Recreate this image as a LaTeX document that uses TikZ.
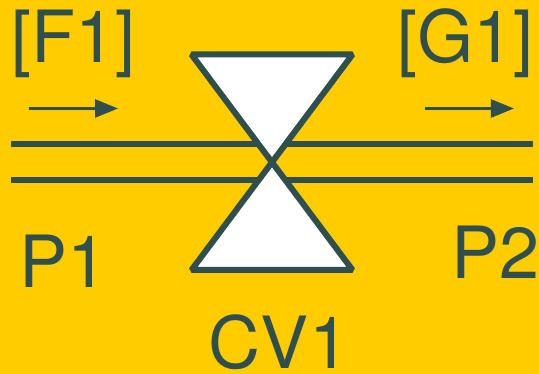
\documentclass[tikz,border=0pt]{standalone}
\usepackage{fontspec}
\setmainfont{TeX Gyre Heros}
\usetikzlibrary{positioning,calc,arrows.meta}
\definecolor{bgyellow}{HTML}{FFCC00}
\definecolor{pipeline}{HTML}{2F4F4F}
\tikzstyle{pipe} = [line width=0.06cm, draw=pipeline]
\tikzstyle{valve} = [line width=0.06cm, draw=pipeline, fill=white, line join=bevel]
\tikzstyle{flow} = [line width=0.025cm, draw=pipeline, -{Triangle[length=0.23cm,width=0.18cm]}]
\tikzstyle{tag} = [text=pipeline, font=\fontsize{20.5pt}{20.5pt}\selectfont, inner sep=0pt, anchor=base]

\begin{document}
\begin{tikzpicture}[x=0.1cm, y=-0.1cm]
        \useasboundingbox [fill=bgyellow] (0,0) rectangle (53.9,37.4);

        % Ends
        \coordinate (pipeAw) at (1.1,14.4);
        \coordinate (pipeAe) at (53.3,14.4);
        \coordinate (pipeBw) at (1.1,18.0);
        \coordinate (pipeBe) at (53.3,18.0);
        \coordinate (flowAw) at (2.9,10.85);
        \coordinate (flowAe) at (11.8,10.85);
        \coordinate (flowBw) at (42.5,10.85);
        \coordinate (flowBe) at (51.4,10.85);
        \coordinate (valveNW) at (19.15,5.45);
        \coordinate (valveNE) at (35.25,5.45);
        \coordinate (valveSW) at (19.15,27);
        \coordinate (valveSE) at (35.25,27);

        % Lines
        \draw [pipe] (pipeAw) -- (pipeAe);
        \draw [pipe] (pipeBw) -- (pipeBe);
        \draw [flow] (flowAw) -- (flowAe);
        \draw [flow] (flowBw) -- (flowBe);

        % Valve
        \draw [valve] (valveNW) -- (valveNE) -- (valveSW) -- (valveSE) -- cycle;

        % Labels
        \node (feed) [tag] at (7.35,6.3) {[F1]};
        \node (gas) [tag] at (46.55,6.3) {[G1]};
        \node (pone) [tag] at (6.4,28.8) {P1};
        \node (ptwo) [tag] at (49.6,27.9) {P2};
        \node (cvone) [tag] at (27.9,36.85) {CV1};
\end{tikzpicture}
\end{document}
